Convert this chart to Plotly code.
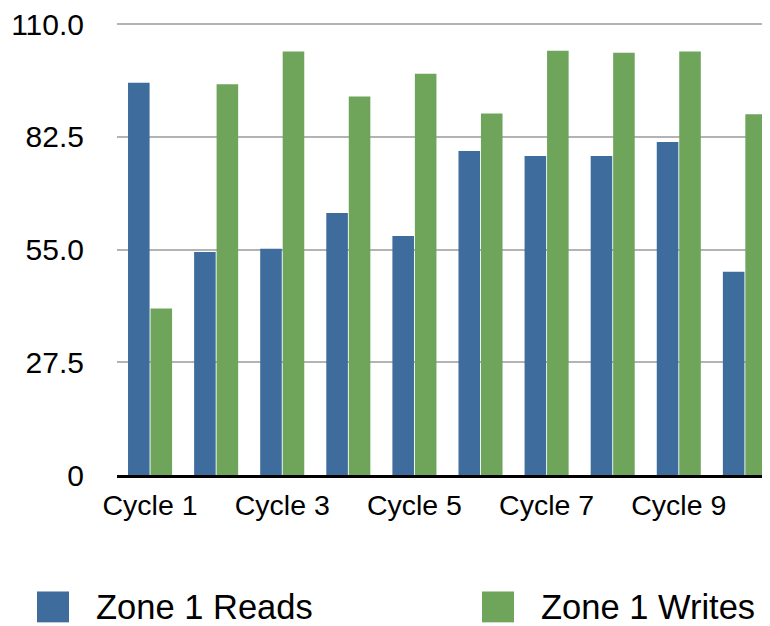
import plotly.graph_objects as go

categories = [f"Cycle {i}" for i in range(1, 11)]
reads = [95.7, 54.4, 55.2, 63.9, 58.3, 79.0, 77.8, 77.8, 81.2, 49.6]
writes = [40.6, 95.3, 103.3, 92.3, 97.9, 88.2, 103.5, 103.0, 103.3, 88.0]
series_names = ["Zone 1 Reads", "Zone 1 Writes"]
tick_labels_x = ["Cycle 1", "Cycle 3", "Cycle 5", "Cycle 7", "Cycle 9"]
y_ticks = [0, 27.5, 55, 82.5, 110]
y_tick_text = ["0", "27.5", "55.0", "82.5", "110.0"]

BLUE = "#3d6c9d"
GREEN = "#6ea55a"
FONT = "Liberation Sans, Arial, Helvetica, sans-serif"

OFF = 8  # page body margin
W, H = 770 - OFF, 626 - OFF
L, T = 117 - OFF, 21 - OFF
AXIS_Y = 475 - OFF
R, B = 0, H - AXIS_Y
PW, PH = W - L - R, H - T - B
Y_MAX = 110.25  # tiny headroom so the 110 gridline is drawn


def px_x(px):
    return (px - OFF - L) / PW


def px_y(py):
    return (AXIS_Y - (py - OFF)) / PH


fig = go.Figure()
fig.add_trace(go.Bar(x=categories, y=reads, name=series_names[0],
                     marker=dict(color=BLUE, line=dict(width=0)), showlegend=False))
fig.add_trace(go.Bar(x=categories, y=writes, name=series_names[1],
                     marker=dict(color=GREEN, line=dict(width=0)), showlegend=False))

fig.update_layout(
    width=W, height=H,
    margin=dict(l=L, r=R, t=T, b=B, pad=0),
    paper_bgcolor="white", plot_bgcolor="white",
    barmode="group", bargap=0.32, bargroupgap=0.04,
    font=dict(family=FONT, color="black"),
)
fig.update_xaxes(
    type="category", range=[-0.5, 9.38],
    tickmode="array", tickvals=tick_labels_x, ticktext=tick_labels_x,
    tickfont=dict(size=28.5, family=FONT, color="black"),
    showgrid=False, showline=True, linecolor="black", linewidth=2.5,
    ticks="", ticklabelstandoff=3, zeroline=False,
)
fig.update_yaxes(
    range=[0, Y_MAX], tickmode="array", tickvals=y_ticks, ticktext=y_tick_text,
    tickfont=dict(size=30, family=FONT, color="black"),
    showgrid=True, gridcolor="#b3b3b3", gridwidth=2,
    showline=False, zeroline=False, ticks="", ticklabelstandoff=32,
    ticklabeloverflow="allow",
)

# legend drawn as shapes + text
legend_items = [(37, 69, 94, BLUE, series_names[0]), (482, 514, 539, GREEN, series_names[1])]
for x0, x1, tx, col, name in legend_items:
    fig.add_shape(type="rect", xref="paper", yref="paper",
                  x0=px_x(x0), x1=px_x(x1), y0=px_y(623), y1=px_y(592),
                  fillcolor=col, line=dict(width=0))
    fig.add_annotation(xref="paper", yref="paper", x=px_x(tx), y=px_y(608),
                       text=name, showarrow=False, xanchor="left", yanchor="middle",
                       font=dict(size=34.5, family=FONT, color="black"))

fig.write_html("out.html")
